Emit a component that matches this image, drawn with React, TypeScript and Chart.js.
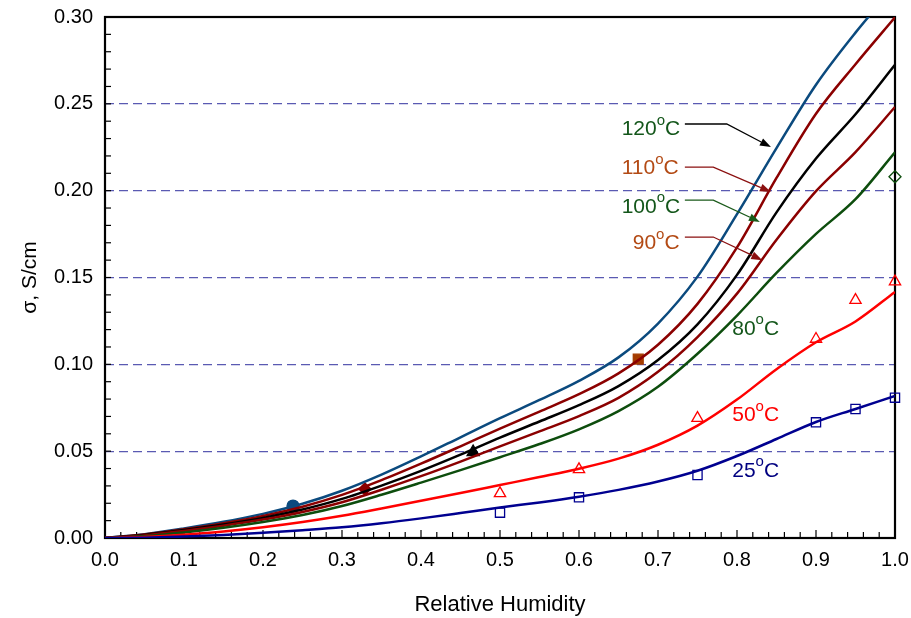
import React, { useEffect, useRef } from 'react';
import { Chart, registerables } from 'chart.js';
Chart.register(...registerables);

const FONT = "'Liberation Sans', Arial, Helvetica, sans-serif";

// ---- Relative humidity grid used for the fitted curves ----
const rhCurve = [0, 0.05, 0.1, 0.15, 0.2, 0.25, 0.3, 0.35, 0.4, 0.45, 0.5, 0.55, 0.6, 0.65, 0.7, 0.75, 0.8, 0.85, 0.9, 0.95, 1.0];

// ---- Fitted conductivity curves (S/cm) ----
const s120 = [0, 0.0022, 0.0055, 0.0093, 0.0139, 0.0197, 0.0272, 0.0365, 0.047, 0.058, 0.069, 0.0795, 0.0905, 0.104, 0.1235, 0.1505, 0.1865, 0.2245, 0.261, 0.291, 0.318];
const s110 = [0, 0.002, 0.005, 0.0085, 0.0127, 0.018, 0.0248, 0.0333, 0.0428, 0.0528, 0.063, 0.0728, 0.0828, 0.0948, 0.1113, 0.1348, 0.1673, 0.2073, 0.2443, 0.2728, 0.2998];
const s100 = [0, 0.0018, 0.0046, 0.0078, 0.0116, 0.0164, 0.0225, 0.0302, 0.0387, 0.048, 0.0578, 0.0671, 0.0765, 0.0875, 0.1025, 0.123, 0.1515, 0.1875, 0.2185, 0.244, 0.2725];
const s90 = [0, 0.0015, 0.0041, 0.0071, 0.0106, 0.015, 0.0206, 0.0278, 0.0356, 0.044, 0.0528, 0.0614, 0.0702, 0.0807, 0.0957, 0.1157, 0.1407, 0.1717, 0.1997, 0.2222, 0.2482];
const s80 = [0, 0.001, 0.0032, 0.0059, 0.0092, 0.0132, 0.0184, 0.0249, 0.0319, 0.0391, 0.0465, 0.0541, 0.0626, 0.0731, 0.0871, 0.1061, 0.1281, 0.1526, 0.1751, 0.1951, 0.2221];
const s50 = [0, 0.0006, 0.0019, 0.0038, 0.0062, 0.0092, 0.0128, 0.017, 0.0214, 0.0259, 0.0305, 0.0351, 0.0399, 0.0457, 0.0537, 0.0647, 0.0797, 0.0972, 0.1127, 0.1247, 0.1417];
const s25 = [0, 0.0002, 0.0008, 0.0017, 0.003, 0.0045, 0.0062, 0.0085, 0.0113, 0.0144, 0.0176, 0.0205, 0.0238, 0.0277, 0.0325, 0.0387, 0.0472, 0.057, 0.0668, 0.0743, 0.0818];

// ---- Measured points ----
const rhMeas = [0.5, 0.6, 0.75, 0.9, 0.95, 1.0];
const s50Meas = [0.0257, 0.0395, 0.069, 0.1146, 0.137, 0.1476];
const s25Meas = [0.0146, 0.0234, 0.0363, 0.0666, 0.0743, 0.0808];

// single markers: 120, 110, 100, 90 (filled), 80 (open)
const rhSingle = [0.238, 0.329, 0.466, 0.675, 1.0];
const sSingle = [0.0184, 0.0282, 0.0495, 0.103, 0.208];

// ---- Annotation labels (temperature in °C) ----
const labelTemps = ['120', '110', '100', '90', '80', '50', '25'];
const labelRh = [0.654, 0.654, 0.654, 0.668, 0.794, 0.794, 0.794];
const labelS = [0.2352, 0.2128, 0.1905, 0.1695, 0.1205, 0.0705, 0.0385];
const labelColors = ['#13561a', '#b34a14', '#13561a', '#b34a14', '#13561a', '#ff0000', '#000080'];

// ---- Arrows from labels to curves ----
const arrowStartRh = [0.734, 0.734, 0.734, 0.734];
const arrowStartS = [0.2384, 0.2136, 0.1946, 0.1733];
const arrowElbowRh = [0.787, 0.77, 0.77, 0.77];
const arrowTipRh = [0.843, 0.843, 0.829, 0.832];
const arrowTipS = [0.2251, 0.1992, 0.182, 0.16];
const arrowColors = ['#000000', '#8b1010', '#1a5a1a', '#8b1010'];

const xTickStep = 0.1;
const yTickStep = 0.05;

const toPts = (xs: number[], ys: number[]) => xs.map((x, i) => ({ x, y: ys[i] }));

const framePlugin = {
  id: 'frame',
  beforeDatasetsDraw(chart: any) {
    const { ctx, chartArea: a, scales } = chart;
    const xs = scales.x;
    const ys = scales.y;
    ctx.save();
    ctx.strokeStyle = '#000';
    ctx.lineWidth = 1.2;
    for (let i = 1; i < 30; i++) {
      const y = ys.getPixelForValue(i * 0.01);
      ctx.beginPath();
      ctx.moveTo(a.left, y);
      ctx.lineTo(a.left + 6, y);
      ctx.stroke();
    }
    for (let i = 1; i < 50; i++) {
      const x = xs.getPixelForValue(i * 0.02);
      const len = i % 5 === 0 ? 8 : 6;
      ctx.beginPath();
      ctx.moveTo(x, a.bottom);
      ctx.lineTo(x, a.bottom - len);
      ctx.stroke();
    }
    ctx.lineWidth = 2.2;
    ctx.strokeRect(a.left, a.top, a.right - a.left, a.bottom - a.top);
    ctx.restore();
  },
};

const annotationPlugin = {
  id: 'annotations',
  afterDatasetsDraw(chart: any) {
    const { ctx, scales } = chart;
    const xs = scales.x;
    const ys = scales.y;
    ctx.save();
    for (let i = 0; i < arrowStartRh.length; i++) {
      const x0 = xs.getPixelForValue(arrowStartRh[i]);
      const y0 = ys.getPixelForValue(arrowStartS[i]);
      const x1 = xs.getPixelForValue(arrowElbowRh[i]);
      const x2 = xs.getPixelForValue(arrowTipRh[i]);
      const y2 = ys.getPixelForValue(arrowTipS[i]);
      ctx.strokeStyle = arrowColors[i];
      ctx.fillStyle = arrowColors[i];
      ctx.lineWidth = 1.3;
      const ang = Math.atan2(y2 - y0, x2 - x1);
      const hl = 11;
      const hw = 4;
      const bx = x2 - hl * Math.cos(ang);
      const by = y2 - hl * Math.sin(ang);
      ctx.beginPath();
      ctx.moveTo(x0, y0);
      ctx.lineTo(x1, y0);
      ctx.lineTo(bx, by);
      ctx.stroke();
      ctx.beginPath();
      ctx.moveTo(x2, y2);
      ctx.lineTo(bx - hw * Math.sin(ang), by + hw * Math.cos(ang));
      ctx.lineTo(bx + hw * Math.sin(ang), by - hw * Math.cos(ang));
      ctx.closePath();
      ctx.fill();
    }
    ctx.textBaseline = 'middle';
    ctx.textAlign = 'left';
    for (let i = 0; i < labelTemps.length; i++) {
      let x = xs.getPixelForValue(labelRh[i]);
      const y = ys.getPixelForValue(labelS[i]);
      ctx.fillStyle = labelColors[i];
      ctx.font = `21px ${FONT}`;
      ctx.fillText(labelTemps[i], x, y);
      x += ctx.measureText(labelTemps[i]).width;
      ctx.font = `15px ${FONT}`;
      ctx.fillText('o', x, y - 9);
      x += ctx.measureText('o').width;
      ctx.font = `21px ${FONT}`;
      ctx.fillText('C', x, y);
    }
    ctx.restore();
  },
};

const noPad = (s: any) => {
  s.paddingTop = 0;
  s.paddingBottom = 0;
  s.paddingLeft = 0;
  s.paddingRight = 0;
};

export default function App() {
  const ref = useRef<HTMLCanvasElement>(null);
  useEffect(() => {
    document.body.style.margin = '0';
    const canvas = ref.current;
    if (!canvas) return;
    const line = (label: string, ys: number[], color: string) => ({
      type: 'line',
      label,
      data: toPts(rhCurve, ys),
      borderColor: color,
      backgroundColor: color,
      borderWidth: 2.5,
      pointRadius: 0,
      pointHoverRadius: 0,
      cubicInterpolationMode: 'monotone',
      fill: false,
      showLine: true,
    });
    const marker = (label: string, pts: any[], style: any, color: any, fill: any, radius: any) => ({
      type: 'scatter',
      label,
      data: pts,
      pointStyle: style,
      pointRadius: radius,
      pointHoverRadius: radius,
      borderColor: color,
      backgroundColor: fill,
      pointBorderWidth: 1.3,
      borderWidth: 1.3,
      showLine: false,
      clip: false,
    });
    const chart = new Chart(canvas, {
      type: 'scatter',
      data: {
        datasets: [
          line('25°C', s25, '#000090'),
          line('50°C', s50, '#ff0000'),
          line('80°C', s80, '#0d4d0d'),
          line('90°C', s90, '#8b0000'),
          line('100°C', s100, '#000000'),
          line('110°C', s110, '#8b0000'),
          line('120°C', s120, '#0b4a7e'),
          marker('25°C data', toPts(rhMeas, s25Meas), 'rect', '#000090', 'rgba(0,0,0,0)', 6.5),
          marker('50°C data', toPts(rhMeas, s50Meas), 'triangle', '#ff0000', 'rgba(0,0,0,0)', 6.5),
          marker(
            'single',
            toPts(rhSingle, sSingle),
            ['circle', 'rectRot', 'triangle', 'rect', 'rectRot'],
            ['#0b4a7e', '#8b0000', '#000000', '#a53c00', '#0d4d0d'],
            ['#0b4a7e', '#8b0000', '#000000', '#a53c00', 'rgba(0,0,0,0)'],
            [6, 6, 7, 7, 6]
          ),
        ] as any,
      },
      options: {
        animation: false,
        responsive: false,
        devicePixelRatio: 1,
        events: [],
        layout: { padding: { top: 17, right: 16, left: 0, bottom: 0 } },
        plugins: { legend: { display: false }, tooltip: { enabled: false } },
        scales: {
          x: {
            type: 'linear',
            min: 0,
            max: 1,
            afterFit: (s: any) => {
              s.height = 80;
              noPad(s);
            },
            ticks: {
              stepSize: xTickStep,
              callback: (v: any) => Number(v).toFixed(1),
              font: { family: FONT, size: 20 },
              color: '#000',
              padding: 10,
              maxRotation: 0,
              autoSkip: false,
            },
            grid: { display: false, drawTicks: false },
            border: { display: false },
            title: {
              display: true,
              text: 'Relative Humidity',
              font: { family: FONT, size: 22 },
              color: '#000',
              padding: { top: 0, bottom: 0 },
            },
          },
          y: {
            type: 'linear',
            min: 0,
            max: 0.3,
            afterFit: (s: any) => {
              s.width = 105;
              noPad(s);
            },
            ticks: {
              stepSize: yTickStep,
              callback: (v: any) => Number(v).toFixed(2),
              font: { family: FONT, size: 20 },
              color: '#000',
              padding: 12,
            },
            grid: {
              drawTicks: false,
              lineWidth: 1.2,
              color: (c: any) =>
                c.tick && c.tick.value > 0.001 && c.tick.value < 0.299 ? '#5a5ab2' : 'rgba(0,0,0,0)',
            },
            border: { display: false, dash: [9, 5] },
            title: {
              display: true,
              text: 'σ, S/cm',
              font: { family: FONT, size: 21 },
              color: '#000',
              padding: { top: 18, bottom: 0 },
            },
          },
        },
      } as any,
      plugins: [framePlugin, annotationPlugin],
    });
    return () => chart.destroy();
  }, []);
  return <canvas ref={ref} width={911} height={618} style={{ display: 'block' }} />;
}
